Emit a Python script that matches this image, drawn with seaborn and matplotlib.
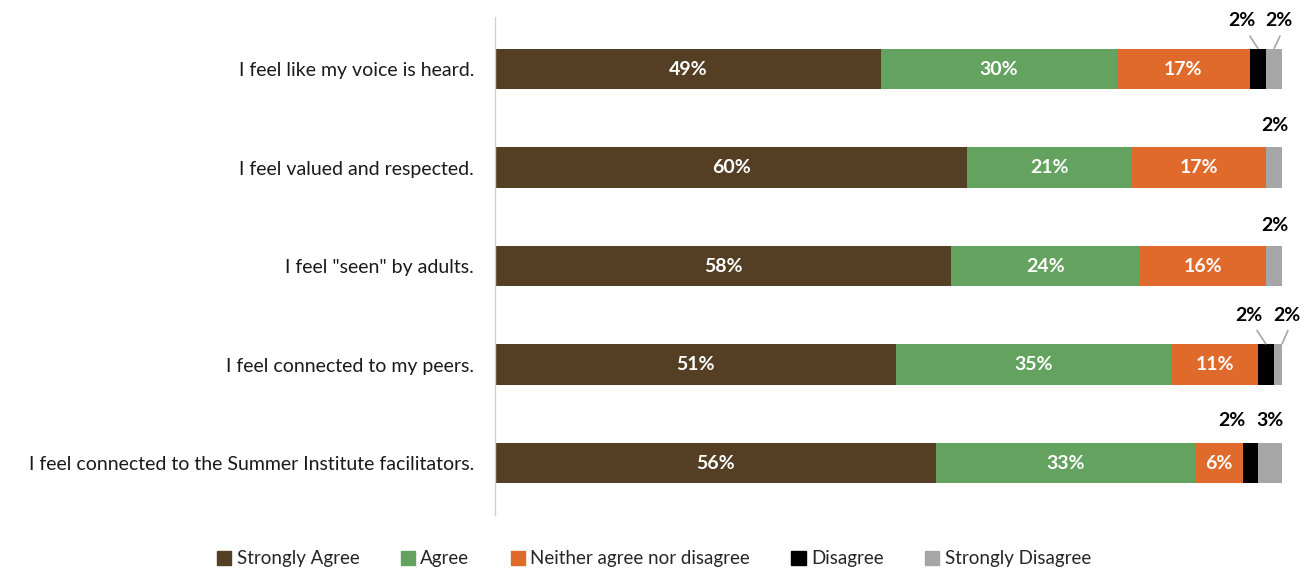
import matplotlib
matplotlib.use("Agg")
import matplotlib.pyplot as plt
import seaborn as sns
import numpy as np
import pandas as pd

# Survey statements and response shares (%)
statements = [
    "I feel like my voice is heard.",
    "I feel valued and respected.",
    'I feel "seen" by adults.',
    "I feel connected to my peers.",
    "I feel connected to the Summer Institute facilitators.",
]
responses = ["Strongly Agree", "Agree", "Neither agree nor disagree",
             "Disagree", "Strongly Disagree"]
strongly_agree = [49, 60, 58, 51, 56]
agree = [30, 21, 24, 35, 33]
neither = [17, 17, 16, 11, 6]
disagree = [2, 0, 0, 2, 2]
strongly_disagree = [2, 2, 2, 2, 3]

colors = ["#553F24", "#64A35F", "#E06A2C", "#000000", "#A6A6A6"]

sns.set_theme(style="white")
plt.rcParams["font.family"] = ["Lato", "DejaVu Sans"]

series = [strongly_agree, agree, neither, disagree, strongly_disagree]
values = np.array(series, dtype=float)  # shape (5 responses, 5 statements)
cum = np.cumsum(values, axis=0)

df = pd.DataFrame({"statement": statements})
for i, r in enumerate(responses):
    df[r] = cum[i]

fig = plt.figure(figsize=(13.08, 5.73), dpi=100)
ax = fig.add_axes([0.3785, 0.106, 0.6015, 0.8595])

bar_h = 0.41
# draw from the longest cumulative layer down so each segment shows
for i in range(len(responses) - 1, -1, -1):
    sns.barplot(data=df, x=responses[i], y="statement", orient="h",
                color=colors[i], width=bar_h, saturation=1,
                linewidth=0, ax=ax, legend=False)

ax.set_xlim(0, 100)
ax.set_ylim(4.5, -0.5)
ax.set_xlabel("")
ax.set_ylabel("")
ax.set_xticks([])
for s in ["top", "right", "bottom"]:
    ax.spines[s].set_visible(False)
ax.spines["left"].set_color("#D0D0D0")
ax.spines["left"].set_linewidth(1.0)
ax.spines["left"].set_bounds(4.53, -0.53)
ax.tick_params(axis="y", length=0, pad=15, labelsize=14, colors="#1a1a1a")

# value labels inside the large segments
for j in range(len(statements)):
    for i in range(3):
        v = values[i, j]
        start = cum[i, j] - v
        ax.text(start + v / 2, j, f"{int(v)}%", ha="center", va="center",
                color="white", fontsize=14, fontweight="bold")

# labels above the narrow segments, with leader lines where offset
above = {
    # row: list of (response index, label x offset from segment centre, y offset, leader)
    0: [(3, -2.1, -0.49, True), (4, 0.6, -0.49, True)],
    1: [(4, 0.1, -0.43, False)],
    2: [(4, 0.1, -0.41, False)],
    3: [(3, -2.2, -0.50, True), (4, 0.6, -0.50, True)],
    4: [(3, -2.4, -0.43, False), (4, 0.0, -0.43, False)],
}
for j, items in above.items():
    for i, dx, dy, leader in items:
        v = values[i, j]
        if v <= 0:
            continue
        centre = cum[i, j] - v / 2
        tx, ty = centre + dx, j + dy
        ax.text(tx, ty, f"{int(v)}%", ha="center", va="center",
                color="black", fontsize=14, fontweight="bold")
        if leader:
            ax.plot([tx + (1.0 if dx < 0 else 0.2), centre],
                    [ty + 0.15, j - bar_h / 2],
                    color="#A6A6A6", linewidth=1.2, solid_capstyle="butt",
                    clip_on=False)

handles = [plt.Rectangle((0, 0), 1, 1, color=c) for c in colors]
fig.legend(handles, responses, loc="center", bbox_to_anchor=(0.5, 0.025),
           ncol=5, frameon=False, fontsize=13.5, handlelength=0.75,
           handleheight=0.75, handletextpad=0.3, columnspacing=2.2)

fig.savefig("out.png", dpi=100)
